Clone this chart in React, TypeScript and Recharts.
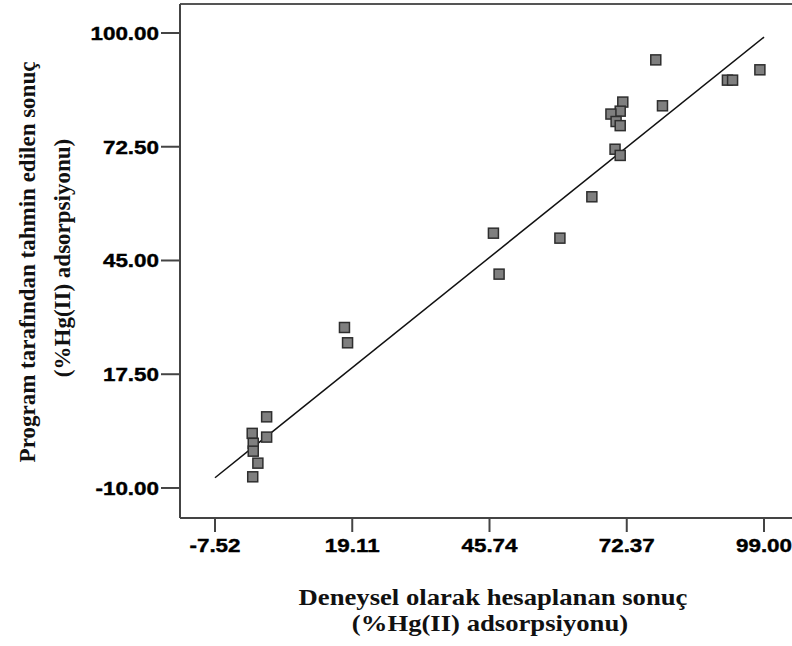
import React from 'react';
import {
    ScatterChart,
    Scatter,
    XAxis,
    YAxis,
    ReferenceLine,
} from 'recharts';

// deneysel (x) ve tahmin edilen (y) sonuçlar
const measured = [2.5, -0.3, 2.5, -0.1, -0.1, 0.8, -0.2, 17.6, 18.2, 46.5, 47.6, 59.4, 65.6, 78.0, 79.3, 71.6, 71.1, 69.3, 70.3, 71.1, 70.1, 71.1, 91.9, 92.9, 98.2];
const predicted = [7.2, 3.2, 2.3, 0.8, -1.1, -4.0, -7.3, 28.8, 25.1, 51.6, 41.7, 50.4, 60.4, 93.5, 82.4, 83.3, 81.1, 80.4, 78.6, 77.6, 71.9, 70.4, 88.6, 88.6, 91.1];

const xTicks = [-7.52, 19.11, 45.74, 72.37, 99.0];
const yTicks = [-10, 17.5, 45, 72.5, 100];
const xDomain = [-14.31, 104.43];
const yDomain = [-17.26, 107.01];

const fitLine = [
    { x: -7.52, y: -7.52 },
    { x: 99.0, y: 99.0 },
];

const points = measured.map((x, i) => ({ x, y: predicted[i] }));

const labelFont = '"Liberation Serif", "Times New Roman", serif';

// tick labels in the original are a bit wider than plain Arial bold
const StretchedTick = (props: any) => {
    const { x, y, payload, textAnchor, vertical } = props;
    return (
        <text
            transform={`translate(${x},${y}) scale(1.18,1)`}
            textAnchor={textAnchor}
            dy={vertical ? '0.36em' : '0.71em'}
            fontFamily="Liberation Sans, Arial, sans-serif"
            fontWeight="bold"
            fontSize={19}
            fill="#000"
            stroke="#000"
            strokeWidth={0.4}
        >
            {Number(payload.value).toFixed(2)}
        </text>
    );
};

const Square = (props: any) => {
    const { cx, cy } = props;
    return (
        <rect
            x={cx - 5}
            y={cy - 5}
            width={10}
            height={10}
            fill="#7f7f7f"
            stroke="#2e2e2e"
            strokeWidth={1.5}
        />
    );
};

export default function App() {
    return (
        <div style={{ position: 'absolute', left: 0, top: 0, width: 792, height: 646, background: '#fff' }}>
            <ScatterChart
                width={792}
                height={646}
                margin={{ top: 4, right: 0, bottom: 88, left: 0 }}
            >
                <XAxis
                    type="number"
                    dataKey="x"
                    domain={xDomain}
                    ticks={xTicks}
                    tick={<StretchedTick />}
                    tickSize={14}
                    tickMargin={6}
                    height={40}
                    stroke="#444"
                    strokeWidth={2}
                    allowDataOverflow
                />
                <YAxis
                    type="number"
                    dataKey="y"
                    domain={yDomain}
                    ticks={yTicks}
                    tick={<StretchedTick vertical />}
                    tickSize={19}
                    tickMargin={2}
                    width={180}
                    stroke="#444"
                    strokeWidth={2}
                    allowDataOverflow
                />
                <ReferenceLine y={yDomain[1]} stroke="#555" strokeWidth={2} />
                <Scatter data={points} shape={Square} isAnimationActive={false} />
                <ReferenceLine segment={fitLine} stroke="#111" strokeWidth={1.5} />
                <text
                    transform="translate(35,262) rotate(-90)"
                    textAnchor="middle"
                    fontFamily={labelFont}
                    fontWeight={700}
                    fontSize={23}
                    fill="#111"
                >
                    Program tarafından tahmin edilen sonuç
                </text>
                <text
                    transform="translate(70,258) rotate(-90)"
                    textAnchor="middle"
                    fontFamily={labelFont}
                    fontWeight={700}
                    fontSize={23}
                    fill="#111"
                >
                    (%Hg(II) adsorpsiyonu)
                </text>
                <text
                    transform="translate(493,605) scale(1.16,1)"
                    textAnchor="middle"
                    fontFamily={labelFont}
                    fontWeight={700}
                    fontSize={23}
                    fill="#111"
                >
                    Deneysel olarak hesaplanan sonuç
                </text>
                <text
                    transform="translate(490,631) scale(1.16,1)"
                    textAnchor="middle"
                    fontFamily={labelFont}
                    fontWeight={700}
                    fontSize={23}
                    fill="#111"
                >
                    (%Hg(II) adsorpsiyonu)
                </text>
            </ScatterChart>
        </div>
    );
}
